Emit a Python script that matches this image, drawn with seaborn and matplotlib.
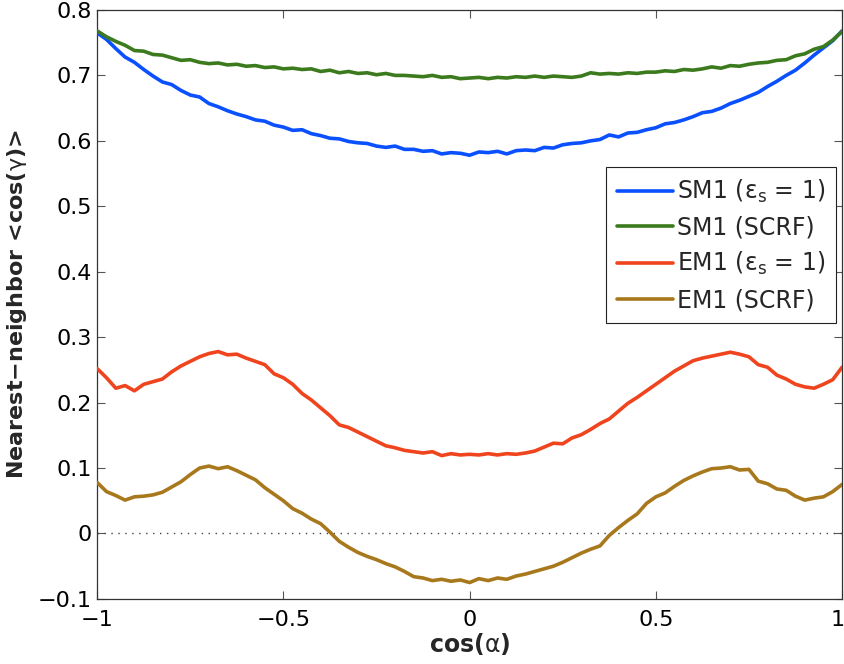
import numpy as np
import pandas as pd
import matplotlib
matplotlib.use("Agg")
import matplotlib.pyplot as plt
import matplotlib.transforms as mtransforms
import seaborn as sns

x_vals = np.round(np.linspace(-1, 1, 81), 3)

sm1_eps1 = [0.765, 0.755, 0.741, 0.728, 0.720, 0.709, 0.699, 0.690, 0.686, 0.677,
            0.670, 0.667, 0.657, 0.652, 0.646, 0.641, 0.637, 0.632, 0.630, 0.624,
            0.621, 0.616, 0.617, 0.611, 0.608, 0.604, 0.603, 0.599, 0.597, 0.596,
            0.592, 0.590, 0.592, 0.587, 0.587, 0.584, 0.585, 0.580, 0.582, 0.581,
            0.578, 0.583, 0.582, 0.584, 0.580, 0.585, 0.586, 0.585, 0.590, 0.589,
            0.594, 0.596, 0.597, 0.600, 0.602, 0.609, 0.606, 0.612, 0.613, 0.617,
            0.620, 0.626, 0.628, 0.632, 0.637, 0.643, 0.645, 0.650, 0.657, 0.662,
            0.668, 0.674, 0.683, 0.691, 0.700, 0.708, 0.719, 0.731, 0.742, 0.753,
            0.768]

sm1_scrf = [0.768, 0.759, 0.752, 0.746, 0.738, 0.737, 0.732, 0.731, 0.727, 0.723,
            0.724, 0.720, 0.718, 0.719, 0.716, 0.717, 0.714, 0.715, 0.712, 0.713,
            0.710, 0.711, 0.709, 0.710, 0.706, 0.708, 0.704, 0.706, 0.703, 0.704,
            0.701, 0.703, 0.700, 0.700, 0.699, 0.698, 0.700, 0.697, 0.698, 0.695,
            0.696, 0.697, 0.695, 0.697, 0.696, 0.698, 0.697, 0.699, 0.697, 0.699,
            0.698, 0.697, 0.699, 0.704, 0.702, 0.703, 0.702, 0.704, 0.703, 0.705,
            0.705, 0.707, 0.706, 0.709, 0.708, 0.710, 0.713, 0.711, 0.715, 0.714,
            0.717, 0.719, 0.720, 0.723, 0.724, 0.730, 0.733, 0.740, 0.744, 0.754,
            0.767]

em1_eps1 = [0.252, 0.238, 0.222, 0.226, 0.218, 0.228, 0.232, 0.236, 0.247, 0.256,
            0.263, 0.270, 0.275, 0.278, 0.273, 0.274, 0.268, 0.263, 0.258, 0.244,
            0.238, 0.228, 0.214, 0.204, 0.192, 0.180, 0.166, 0.162, 0.155, 0.148,
            0.141, 0.134, 0.131, 0.127, 0.125, 0.123, 0.125, 0.119, 0.122, 0.120,
            0.121, 0.120, 0.122, 0.120, 0.122, 0.121, 0.123, 0.126, 0.132, 0.138,
            0.137, 0.146, 0.151, 0.159, 0.168, 0.175, 0.187, 0.199, 0.208, 0.218,
            0.228, 0.238, 0.248, 0.256, 0.264, 0.268, 0.271, 0.274, 0.277, 0.274,
            0.270, 0.258, 0.254, 0.242, 0.236, 0.228, 0.224, 0.222, 0.228, 0.235,
            0.254]

em1_scrf = [0.078, 0.064, 0.058, 0.051, 0.056, 0.057, 0.059, 0.063, 0.071, 0.079,
            0.090, 0.100, 0.103, 0.099, 0.102, 0.096, 0.089, 0.082, 0.070, 0.060,
            0.050, 0.038, 0.031, 0.022, 0.015, 0.002, -0.012, -0.021, -0.029, -0.035,
            -0.040, -0.046, -0.051, -0.058, -0.066, -0.068, -0.072, -0.070, -0.073, -0.071,
            -0.075, -0.069, -0.072, -0.068, -0.070, -0.065, -0.062, -0.058, -0.054, -0.050,
            -0.044, -0.037, -0.030, -0.024, -0.019, -0.003, 0.009, 0.020, 0.030, 0.046,
            0.056, 0.062, 0.072, 0.081, 0.088, 0.094, 0.099, 0.100, 0.102, 0.097,
            0.098, 0.080, 0.076, 0.068, 0.066, 0.057, 0.051, 0.054, 0.056, 0.064,
            0.075]

series_names = [r"SM1 ($\mathrm{\varepsilon_s}$ = 1)", "SM1 (SCRF)",
                r"EM1 ($\mathrm{\varepsilon_s}$ = 1)", "EM1 (SCRF)"]
series_colors = ["#0a50ff", "#3c7a1e", "#f0441e", "#a8781c"]
x_ticks = [-1, -0.5, 0, 0.5, 1]
x_tick_labels = ["\u22121", "\u22120.5", "0", "0.5", "1"]
y_ticks = [-0.1, 0, 0.1, 0.2, 0.3, 0.4, 0.5, 0.6, 0.7, 0.8]
y_tick_labels = ["\u22120.1", "0", "0.1", "0.2", "0.3", "0.4", "0.5", "0.6", "0.7", "0.8"]

frames = []
for name, vals in zip(series_names, [sm1_eps1, sm1_scrf, em1_eps1, em1_scrf]):
    frames.append(pd.DataFrame({"x": x_vals, "y": vals, "series": name}))
df = pd.concat(frames, ignore_index=True)

sns.set_style("ticks")
plt.rcParams["font.family"] = ["DejaVu Sans"]
plt.rcParams["mathtext.fontset"] = "custom"
plt.rcParams["mathtext.rm"] = "DejaVu Sans"
plt.rcParams["mathtext.it"] = "DejaVu Sans:italic"

fig = plt.figure(figsize=(8.45, 6.64), dpi=100)
ax = fig.add_axes([0.115, 0.098, 0.8815, 0.887])

ax.axhline(0, color="#444444", linestyle=(0, (1, 4)), linewidth=1.0, zorder=1)

sns.lineplot(data=df, x="x", y="y", hue="series", hue_order=series_names,
             palette=series_colors, linewidth=2.6, ax=ax, sort=True,
             estimator=None, zorder=3)

ax.set_xlim(-1, 1)
ax.set_ylim(-0.1, 0.8)
ax.set_xticks(x_ticks)
ax.set_xticklabels(x_tick_labels)
ax.set_yticks(y_ticks)
ax.set_yticklabels(y_tick_labels)
ax.tick_params(direction="in", length=6, width=0.8, labelsize=16,
               top=True, right=True, colors="#555555", labelcolor="black")
ax.tick_params(axis="x", pad=8)
ax.tick_params(axis="y", pad=4)
for sp in ax.spines.values():
    sp.set_color("#333333")
    sp.set_linewidth(0.9)

# nudge the rightmost x tick label slightly inside the canvas
last_lbl = ax.get_xticklabels()[-1]
last_lbl.set_transform(last_lbl.get_transform() +
                       mtransforms.ScaledTranslation(-4 / 100, 0, fig.dpi_scale_trans))

ax.set_xlabel(r"cos($\mathrm{\alpha}$)", fontsize=17, fontweight="bold", labelpad=1)
ax.set_ylabel("Nearest\u2212neighbor <cos($\\mathrm{\\gamma}$)>",
              fontsize=16, fontweight="bold", labelpad=6)

leg = ax.legend(loc="upper right", bbox_to_anchor=(0.992, 0.733), fontsize=17,
                frameon=True, fancybox=False, framealpha=1, edgecolor="#222222",
                handlelength=2.4, handletextpad=0.15, borderpad=0.45, labelspacing=0.45,
                borderaxespad=0)
leg.get_frame().set_linewidth(0.8)

fig.savefig("out.png", dpi=100)
